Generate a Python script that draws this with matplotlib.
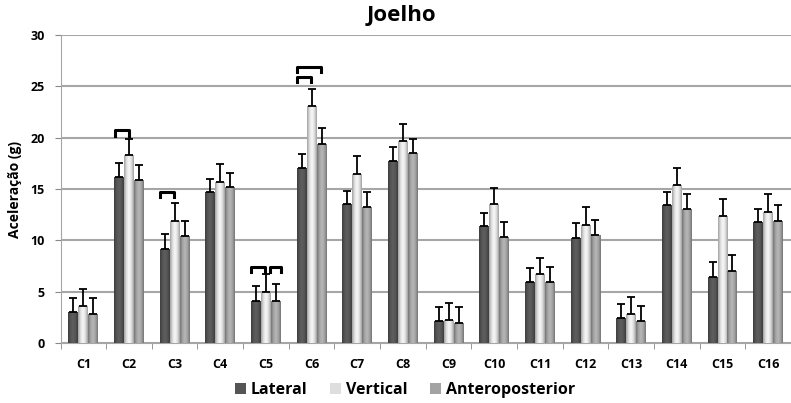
import matplotlib.pyplot as plt
import numpy as np
from matplotlib.colors import LinearSegmentedColormap, to_rgb

categorias = ['C1', 'C2', 'C3', 'C4', 'C5', 'C6', 'C7', 'C8',
              'C9', 'C10', 'C11', 'C12', 'C13', 'C14', 'C15', 'C16']
series = ['Lateral', 'Vertical', 'Anteroposterior']

lateral = [3.0, 16.2, 9.2, 14.7, 4.1, 17.0, 13.5, 17.7,
           2.1, 11.4, 5.9, 10.25, 2.4, 13.4, 6.45, 11.8]
vertical = [3.6, 18.3, 11.9, 15.7, 5.0, 23.1, 16.5, 19.7,
            2.25, 13.5, 6.7, 11.5, 2.8, 15.35, 12.4, 12.8]
antero = [2.85, 15.9, 10.4, 15.2, 4.1, 19.4, 13.2, 18.5,
          1.9, 10.3, 5.95, 10.5, 2.1, 13.05, 7.05, 11.9]

dp_lateral = [1.4, 1.35, 1.4, 1.3, 1.5, 1.4, 1.3, 1.35,
              1.4, 1.3, 1.4, 1.4, 1.4, 1.35, 1.45, 1.3]
dp_vertical = [1.65, 1.6, 1.7, 1.7, 1.75, 1.6, 1.7, 1.6,
               1.65, 1.6, 1.6, 1.7, 1.65, 1.65, 1.65, 1.7]
dp_antero = [1.55, 1.4, 1.5, 1.4, 1.6, 1.5, 1.5, 1.4,
             1.6, 1.5, 1.5, 1.5, 1.55, 1.45, 1.55, 1.5]

# (categoria, serie i, serie j, altura) - colchetes de significancia
colchetes = [(1, 0, 1, 20.7), (2, 0, 1, 14.7), (4, 0, 1, 7.4),
             (4, 1, 2, 7.4), (5, 0, 1, 25.9), (5, 0, 2, 26.9)]

valores = [lateral, vertical, antero]
desvios = [dp_lateral, dp_vertical, dp_antero]
cores = ['#555555', '#dedede', '#a3a3a3']

plt.rcParams['font.family'] = ['Open Sans', 'DejaVu Sans']
plt.rcParams['font.weight'] = 'bold'

fig = plt.figure(figsize=(7.91, 4.03), dpi=100)
ax = fig.add_axes([60.5 / 791, 1 - 343 / 403, 1 - 60.5 / 791, 308 / 403])

x = np.arange(len(categorias))
w = 0.218


def degrade(cor):
    c = np.array(to_rgb(cor))
    escuro = c * 0.72
    claro = np.clip(c * 1.12, 0, 1)
    return LinearSegmentedColormap.from_list('g', [escuro, c, claro, c, escuro])


for k in range(3):
    pos = x + (k - 1) * w
    barras = ax.bar(pos, valores[k], w, color=cores[k], label=series[k],
                    zorder=3, linewidth=0)
    cmap = degrade(cores[k])
    grad = np.linspace(0, 1, 64).reshape(1, -1)
    for b in barras:
        x0, y0 = b.get_x(), b.get_y()
        im = ax.imshow(grad, cmap=cmap, aspect='auto', zorder=3.5,
                       extent=(x0, x0 + b.get_width(), y0, y0 + b.get_height()))
        im.set_clip_path(b)
    ax.errorbar(pos, valores[k], yerr=[np.zeros(len(x)), desvios[k]],
                fmt='none', ecolor='black', elinewidth=1.3, capsize=3,
                capthick=1.3, zorder=4)

for cat, i, j, yb in colchetes:
    if i == 0:
        xa = x[cat] + (i - 1) * w - w / 2 + 0.01
        xb = x[cat] + (j - 1) * w - 0.01
    else:
        xa = x[cat] + (i - 1) * w + 0.08
        xb = x[cat] + (j - 1) * w + w / 2
    ax.plot([xa, xa, xb, xb], [yb - 0.5, yb, yb, yb - 0.5],
            color='black', lw=2.2, solid_joinstyle='round', zorder=5)

ax.set_xlim(-0.5, 15.45)
ax.set_ylim(0, 30)
ax.set_yticks(range(0, 31, 5))
ax.set_xticks(x)
ax.set_xticklabels(categorias, fontsize=9, fontweight='bold')
ax.tick_params(axis='x', length=0, pad=11)
ax.set_xticks(np.arange(-0.5, 16, 1), minor=True)
ax.tick_params(axis='x', which='minor', length=4, color='#888888')
ax.tick_params(axis='y', labelsize=9, length=4, color='#888888', pad=7.5)
for t in ax.get_yticklabels():
    t.set_fontweight('bold')
ax.yaxis.grid(True, color='#a6a6a6', lw=1.5, zorder=0)
ax.set_axisbelow(True)
for s in ['top', 'right']:
    ax.spines[s].set_visible(False)
ax.spines['left'].set_color('#a6a6a6')
ax.spines['bottom'].set_color('#a6a6a6')

ax.set_ylabel('Aceleração (g)', fontsize=10, fontweight='bold', labelpad=6)
fig.text(401 / 791, 1 - 16 / 403, 'Joelho', ha='center', va='center',
         fontsize=16, fontweight='bold')

leg = fig.legend(loc='center', bbox_to_anchor=(405 / 791, 1 - 390 / 403),
                 ncol=3, frameon=False, handlelength=0.7,
                 handleheight=0.7, handletextpad=0.3, columnspacing=1.4,
                 prop={'weight': 'bold', 'size': 11.5})

fig.savefig('out.png', dpi=100)
